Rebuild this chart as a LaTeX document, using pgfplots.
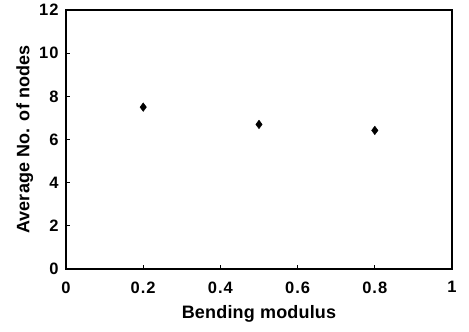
\documentclass[border=0pt]{standalone}
\usepackage{pgfplots}
\pgfplotsset{compat=1.18}
\usepackage{fontspec}
\setmainfont{Liberation Sans}
\newfontfamily\lblfont[LetterSpace=6]{Liberation Sans}
\newfontfamily\axlblfont[LetterSpace=1]{Liberation Sans}
\begin{document}
\begin{tikzpicture}[x=1pt,y=1pt]
\begin{axis}[
  scale only axis,
  width=386pt, height=259pt,
  xmin=0, xmax=1, ymin=0, ymax=12,
  xtick={0,0.2,0.4,0.6,0.8,1},
  ytick={0,2,4,6,8,10,12},
  xticklabels={0,0.2,0.4,0.6,0.8,1},
  yticklabels={0,2,4,6,8,10,12},
  axis line style={line width=1.6pt},
  tick style={line width=1pt, black},
  tick align=inside,
  major tick length=4pt,
  xtick pos=bottom, ytick pos=left,
  tick label style={font=\lblfont\fontsize{16.5}{16.5}\selectfont\bfseries},
  xticklabel style={yshift=-9pt},
  yticklabel style={xshift=-4pt},
  xlabel={Bending modulus},
  ylabel={Average No. of nodes},
  label style={font=\axlblfont\fontsize{18}{18}\selectfont\bfseries},
  xlabel style={yshift=-5pt},
  ylabel style={yshift=-1pt},
]
\addplot[only marks, mark=diamond*, mark size=4.3pt, black] coordinates {
  (0.2,7.5) (0.5,6.7) (0.8,6.42)
};
\end{axis}
\pgfresetboundingbox
\path (-66pt,-63pt) rectangle (403pt,269pt);
\end{tikzpicture}
\end{document}
